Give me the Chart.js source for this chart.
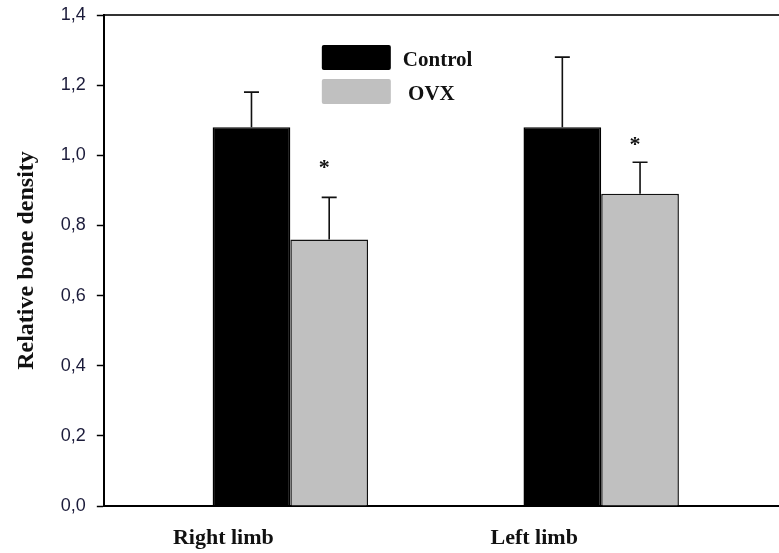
<!DOCTYPE html>
<html>
<head>
<meta charset="utf-8">
<script src="https://cdn.jsdelivr.net/npm/chart.js@4"></script>
<style>
  html, body { margin: 0; padding: 0; background: #fff; }
  canvas { display: block; }
</style>
</head>
<body>
<canvas id="densityChart" width="779" height="553"></canvas>
<script>
// data
const limbNames = ['Right limb', 'Left limb'];
const seriesNames = ['Control', ' OVX'];
const controlMeans = [1.08, 1.08];
const controlErrors = [0.10, 0.20];
const ovxMeans = [0.76, 0.89];
const ovxErrors = [0.12, 0.09];
const starLevels = [0.975, 1.04]; // "*" marks above OVX bars
const yTicks = [0, 0.2, 0.4, 0.6, 0.8, 1.0, 1.2, 1.4];

const serif = "'Liberation Serif', 'Times New Roman', serif";
const sans = "'Liberation Sans', Arial, sans-serif";

// error bars (upper only) + significance stars
const errorBarPlugin = {
  id: 'errorBars',
  afterDatasetsDraw(chart) {
    const ctx = chart.ctx;
    const y = chart.scales.y;
    chart.data.datasets.forEach((ds, di) => {
      const meta = chart.getDatasetMeta(di);
      meta.data.forEach((bar, i) => {
        const top = y.getPixelForValue(ds.data[i].y + ds.errors[i]);
        ctx.save();
        ctx.strokeStyle = '#111';
        ctx.lineWidth = 1.6;
        ctx.beginPath();
        ctx.moveTo(bar.x, bar.y);
        ctx.lineTo(bar.x, top);
        ctx.moveTo(bar.x - 7.5, top);
        ctx.lineTo(bar.x + 7.5, top);
        ctx.stroke();
        if (ds.stars) {
          ctx.fillStyle = '#111';
          ctx.font = 'bold 22px ' + serif;
          ctx.textAlign = 'center';
          ctx.textBaseline = 'alphabetic';
          ctx.fillText('*', bar.x - 5, y.getPixelForValue(ds.stars[i]) + 10);
        }
        ctx.restore();
      });
    });
  }
};

// legend drawn inside the plot, top middle
const boxLegendPlugin = {
  id: 'boxLegend',
  afterDraw(chart) {
    const ctx = chart.ctx;
    const area = chart.chartArea;
    const x0 = area.left + 218;
    let y0 = area.top + 30;
    chart.data.datasets.forEach(ds => {
      ctx.save();
      ctx.fillStyle = ds.backgroundColor;
      ctx.beginPath();
      ctx.roundRect(x0, y0, 69, 25, 2);
      ctx.fill();
      ctx.fillStyle = '#111';
      ctx.font = 'bold 21px ' + serif;
      ctx.textBaseline = 'alphabetic';
      ctx.fillText(ds.label, x0 + 81, y0 + 21);
      ctx.restore();
      y0 += 34;
    });
  }
};

new Chart(document.getElementById('densityChart'), {
  type: 'bar',
  data: {
    datasets: [{
      label: seriesNames[0],
      data: controlMeans.map((v, i) => ({ x: i + 1, y: v })),
      errors: controlErrors,
      backgroundColor: '#000000',
      borderColor: '#000000',
      borderWidth: 1.5,
      borderSkipped: 'bottom'
    }, {
      label: seriesNames[1],
      data: ovxMeans.map((v, i) => ({ x: i + 1, y: v })),
      errors: ovxErrors,
      stars: starLevels,
      backgroundColor: '#c0c0c0',
      borderColor: '#111111',
      borderWidth: 1.5,
      borderSkipped: 'bottom'
    }]
  },
  options: {
    responsive: false,
    animation: false,
    devicePixelRatio: 1,
    categoryPercentage: 0.5,
    barPercentage: 1.0,
    layout: { padding: { left: 12, top: 15, right: 0, bottom: 2 } },
    plugins: {
      legend: { display: false },
      tooltip: { enabled: false }
    },
    scales: {
      x: {
        type: 'linear',
        offset: false,
        min: 0.4,
        max: 2.572,
        afterBuildTicks: axis => { axis.ticks = limbNames.map((_, i) => ({ value: i + 1 })); },
        afterFit: axis => { axis.height = 45; },
        grid: { display: false, drawTicks: false },
        border: { display: true, color: '#000', width: 2 },
        ticks: {
          callback: v => limbNames[v - 1],
          font: { family: serif, size: 22, weight: 'bold' },
          color: '#111',
          padding: 19,
          labelOffset: -67,
          maxRotation: 0
        }
      },
      x2: {
        type: 'linear',
        position: 'top',
        afterFit: axis => { axis.height = 0; },
        grid: { display: false, drawTicks: false },
        border: { display: true, color: '#333', width: 2 },
        ticks: { display: false }
      },
      y: {
        min: 0,
        max: 1.4,
        afterBuildTicks: axis => { axis.ticks = yTicks.map(v => ({ value: v })); },
        afterFit: axis => { axis.paddingTop = 8; },
        grid: { drawOnChartArea: false, tickLength: 7, tickWidth: 1.5, tickColor: '#000' },
        border: { display: true, color: '#000', width: 2 },
        ticks: {
          callback: v => v.toFixed(1).replace('.', ','),
          font: { family: sans, size: 18 },
          color: '#1b1b3a',
          padding: 11
        },
        title: {
          display: true,
          text: 'Relative bone density',
          font: { family: serif, size: 24, weight: 'bold' },
          color: '#111',
          padding: { top: 0, bottom: 9 }
        }
      }
    }
  },
  plugins: [errorBarPlugin, boxLegendPlugin]
});
</script>
</body>
</html>
